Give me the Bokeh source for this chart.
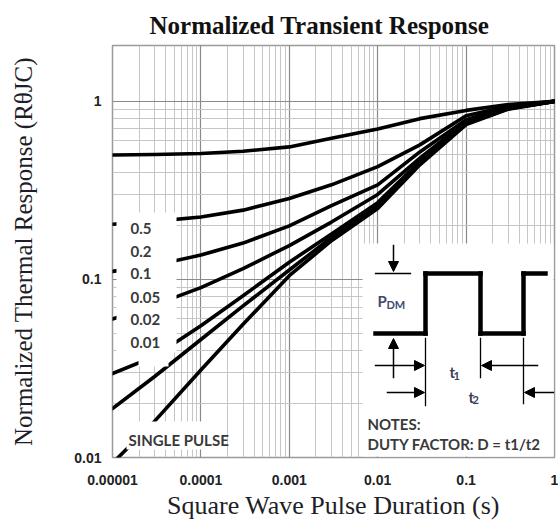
import math
from bokeh.plotting import figure
from bokeh.models import FixedTicker, Label, BoxAnnotation, Arrow, NormalHead, Range1d
from bokeh.embed import file_html
from bokeh.resources import INLINE

# ---------------- data ----------------
pulse_duration = [1e-5, 3e-5, 1e-4, 3e-4, 1e-3, 3e-3, 1e-2, 3e-2, 1e-1, 3e-1, 1.0]
resp_d050 = [0.500, 0.503, 0.510, 0.525, 0.555, 0.620, 0.700, 0.800, 0.890, 0.960, 1.0]
resp_d020 = [0.204, 0.212, 0.224, 0.245, 0.285, 0.340, 0.430, 0.570, 0.830, 0.940, 1.0]
resp_d010 = [0.111, 0.120, 0.137, 0.160, 0.200, 0.260, 0.340, 0.520, 0.790, 0.930, 1.0]
resp_d005 = [0.060, 0.072, 0.090, 0.115, 0.155, 0.210, 0.300, 0.480, 0.770, 0.920, 1.0]
resp_d002 = [0.0296, 0.037, 0.055, 0.081, 0.125, 0.180, 0.270, 0.460, 0.760, 0.915, 1.0]
resp_d001 = [0.0188, 0.0285, 0.046, 0.071, 0.113, 0.172, 0.260, 0.450, 0.750, 0.910, 1.0]
resp_single = [0.0093, 0.016, 0.031, 0.056, 0.105, 0.165, 0.250, 0.440, 0.740, 0.905, 1.0]

duty_labels = ["0.5", "0.2", "0.1", "0.05", "0.02", "0.01"]
x_tick_values = [1e-5, 1e-4, 1e-3, 1e-2, 1e-1, 1.0]
x_tick_labels = ["0.00001", "0.0001", "0.001", "0.01", "0.1", "1"]
y_tick_values = [0.01, 0.1, 1.0]
y_tick_labels = ["0.01", "0.1", "1"]

title_text = "Normalized Transient Response"
x_label_text = "Square Wave Pulse Duration (s)"
y_label_text = "Normalized Thermal Response (R\u03b8JC)"

# ---------------- figure ----------------
p = figure(width=558, height=522, x_axis_type="log", y_axis_type="log",
           x_range=Range1d(1e-5, 1.0), y_range=Range1d(0.01, 2.06),
           output_backend="svg", toolbar_location=None,
           min_border_left=112, min_border_right=4, min_border_top=45, min_border_bottom=65)
p.background_fill_color = "white"
p.border_fill_color = "white"
p.outline_line_color = "#9a9a9a"
p.outline_line_width = 1.5

p.title.text = title_text
p.title.text_font = "Liberation Serif"
p.title.text_font_style = "bold"
p.title.text_font_size = "25px"
p.title.text_color = "#111111"
p.title.align = "left"
p.title.offset = 37
p.title.standoff = 14

x_minor = [m * 10.0 ** e for e in range(-5, 0) for m in range(2, 10)]
y_minor = [m * 10.0 ** e for e in range(-2, 0) for m in range(2, 10)]
xt = FixedTicker(ticks=x_tick_values, minor_ticks=x_minor)
yt = FixedTicker(ticks=y_tick_values, minor_ticks=y_minor)
p.xaxis.ticker = xt
p.yaxis.ticker = yt
p.xgrid.ticker = xt
p.ygrid.ticker = yt
p.xaxis.major_label_overrides = dict(zip(x_tick_values, x_tick_labels))
p.yaxis.major_label_overrides = dict(zip(y_tick_values, y_tick_labels))

for ax in (p.xaxis, p.yaxis):
    ax.axis_line_color = None
    ax.major_tick_line_color = None
    ax.minor_tick_line_color = None
    ax.major_tick_out = 0
    ax.major_tick_in = 0
    ax.minor_tick_out = 0
    ax.minor_tick_in = 0
    ax.major_label_text_font = "Liberation Sans"
    ax.major_label_text_font_style = "bold"
    ax.major_label_text_font_size = "14px"
    ax.major_label_text_color = "#222222"
    ax.axis_label_text_font = "Liberation Serif"
    ax.axis_label_text_font_style = "normal"
    ax.axis_label_text_color = "#1e1e28"
p.xaxis.major_label_standoff = 17
p.yaxis.major_label_standoff = 11
p.xaxis.axis_label = x_label_text
p.xaxis.axis_label_text_font_size = "26px"
p.xaxis.axis_label_standoff = 3
p.yaxis.axis_label = y_label_text
p.yaxis.axis_label_text_font_size = "25px"
p.yaxis.axis_label_standoff = 34

for g in (p.xgrid, p.ygrid):
    g.grid_line_color = "#8a8a8a"
    g.grid_line_width = 1.2
    g.minor_grid_line_color = "#c6c6c6"
    g.minor_grid_line_width = 1.0

for series in (resp_d050, resp_d020, resp_d010, resp_d005, resp_d002, resp_d001, resp_single):
    p.line(pulse_duration, series, line_color="black", line_width=3.6,
           line_join="round", line_cap="round")

# ---------------- decorations (screen px relative to frame) ----------------
FL, FB = 112, 457
def sx(px):
    return px - FL
def sy(py):
    return FB - py

def wbox(l, t, r, b):
    p.add_layout(BoxAnnotation(left=sx(l), right=sx(r), top=sy(t), bottom=sy(b),
                               left_units="screen", right_units="screen",
                               top_units="screen", bottom_units="screen",
                               fill_color="white", fill_alpha=1.0, line_color=None))

wbox(362, 243, 553, 456)   # inset
wbox(116, 212, 176, 352)   # duty labels
wbox(138, 350, 168, 366)
wbox(126, 421, 226, 449)   # single pulse

def seg(x0, y0, x1, y1, w=1.5, head=False):
    p.add_layout(Arrow(x_start=sx(x0), y_start=sy(y0), x_end=sx(x1), y_end=sy(y1),
                       start_units="screen", end_units="screen", start=None,
                       end=NormalHead(size=10, fill_color="black", line_color="black", line_width=1) if head else None,
                       line_color="black", line_width=w, line_cap="square"))

wave = [(375, 333), (425, 333), (425, 273), (480, 273), (480, 333), (523, 333), (523, 273), (545, 273)]
for (a, b), (c, d) in zip(wave[:-1], wave[1:]):
    seg(a, b, c, d, w=4.5)
seg(375, 273, 410, 273, w=1.3)
seg(393, 245, 393, 271, head=True)
seg(393, 377, 393, 338, head=True)
seg(425, 338, 425, 405, w=1.3)
seg(480, 338, 480, 377, w=1.3)
seg(523, 338, 523, 403, w=1.3)
seg(375, 365, 424, 365, head=True)
seg(537, 365, 481, 365, head=True)
seg(387, 392, 424, 392, head=True)
seg(553, 392, 524, 392, head=True)

def lab(text, px, py, size="15px", font="Lato", style="bold", color="#3a3a3a",
        align="left", baseline="middle"):
    p.add_layout(Label(x=sx(px), y=sy(py), x_units="screen", y_units="screen", text=text,
                       text_font=font, text_font_size=size, text_font_style=style,
                       text_color=color, text_align=align, text_baseline=baseline))

label_rows = [228, 251, 273, 297, 319, 342]
for t, yy in zip(duty_labels, label_rows):
    lab(t, 130, yy)
lab("SINGLE PULSE", 128, 439)
lab("NOTES:", 367, 423)
lab("DUTY FACTOR: D = t1/t2", 367, 443)
lab("P", 377, 300, size="15px", color="#404a70")
lab("DM", 386, 304, size="11px", color="#404a70")
lab("t", 449, 371, size="15px", color="#3a3f55")
lab("1", 453, 375, size="11px", color="#3a3f55")
lab("t", 468, 396, size="15px", color="#3a3f55")
lab("2", 472, 399, size="11px", color="#3a3f55")

open("out.html", "w").write(file_html(p, INLINE))
